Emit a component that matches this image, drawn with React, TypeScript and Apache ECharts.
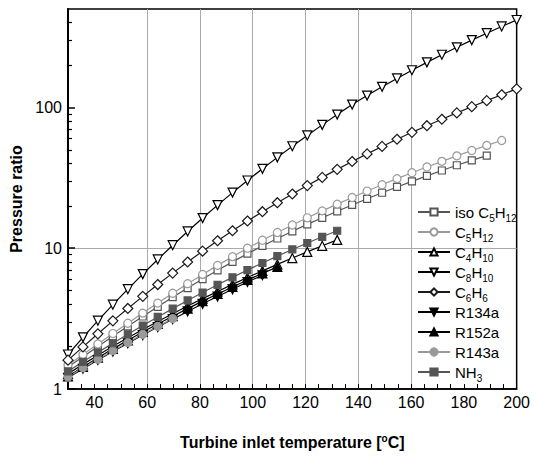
import React, { useEffect, useRef } from 'react';
import * as echarts from 'echarts';

// Turbine inlet temperature points (°C), equally spaced from 30 to 200
const temps = [30, 35.67, 41.33, 47, 52.67, 58.33, 64, 69.67, 75.33, 81, 86.67, 92.33, 98, 103.67, 109.33, 115, 120.67, 126.33, 132, 137.67, 143.33, 149, 154.67, 160.33, 166, 171.67, 177.33, 183, 188.67, 194.33, 200];

const isoC5H12 = [1.432, 1.694, 2.004, 2.366, 2.786, 3.273, 3.837, 4.487, 5.212, 6.039, 6.966, 7.998, 9.141, 10.38, 11.72, 13.18, 14.76, 16.44, 18.28, 20.28, 22.44, 24.77, 27.23, 29.85, 32.66, 35.65, 38.82, 42.07, 45.5];
const C5H12 = [1.479, 1.758, 2.089, 2.477, 2.931, 3.459, 4.074, 4.786, 5.598, 6.516, 7.551, 8.71, 10.0, 11.4, 12.94, 14.62, 16.44, 18.41, 20.56, 22.91, 25.47, 28.25, 31.19, 34.36, 37.76, 41.4, 45.29, 49.43, 53.7, 58.21];
const C4H10 = [1.282, 1.496, 1.738, 2.009, 2.312, 2.649, 3.02, 3.428, 3.882, 4.385, 4.932, 5.534, 6.194, 6.902, 7.674, 8.511, 9.419, 10.4, 11.46];
const C8H10 = [1.758, 2.328, 3.055, 3.972, 5.117, 6.546, 8.318, 10.5, 13.15, 16.37, 20.23, 24.83, 30.27, 36.64, 44.16, 52.97, 63.24, 75.16, 88.92, 104.7, 121.3, 140.0, 160.7, 183.7, 208.9, 236.6, 267.3, 300.6, 336.5, 375.8, 417.8];
const C6H6 = [1.603, 1.991, 2.466, 3.048, 3.733, 4.55, 5.521, 6.653, 7.98, 9.528, 11.3, 13.3, 15.6, 18.16, 21.04, 24.27, 27.86, 31.84, 36.31, 41.3, 46.77, 52.84, 59.43, 66.53, 74.13, 82.41, 91.41, 101.2, 111.7, 123.0, 135.5];
const R134a = [1.202, 1.393, 1.607, 1.845, 2.113, 2.415, 2.754, 3.133, 3.556, 4.027, 4.539, 5.105, 5.754, 6.427];
const R152a = [1.23, 1.435, 1.667, 1.928, 2.218, 2.541, 2.897, 3.289, 3.724, 4.207, 4.732, 5.309, 5.943, 6.622, 7.362];
const R143a = [1.216, 1.413, 1.629, 1.871, 2.143, 2.449, 2.786, 3.162];
const NH3 = [1.334, 1.56, 1.82, 2.113, 2.449, 2.825, 3.251, 3.724, 4.256, 4.842, 5.495, 6.209, 6.998, 7.852, 8.79, 9.795, 10.89, 12.05, 13.3];

const xTickValues = [30, 35, 40, 45, 50, 55, 60, 65, 70, 75, 80, 85, 90, 95, 100, 105, 110, 115, 120, 125, 130, 135, 140, 145, 150, 155, 160, 165, 170, 175, 180, 185, 190, 195, 200];
const xLabelValues = [40, 60, 80, 100, 120, 140, 160, 180, 200];
const xGridValues = [40, 60, 80, 100, 120, 140, 160, 180];
const yLabelValues = [1, 10, 100];
const yMinorTickValues = [2, 3, 4, 5, 6, 7, 8, 9, 20, 30, 40, 50, 60, 70, 80, 90, 200, 300, 400];

const FONT = 'Liberation Sans, Arial, Helvetica, sans-serif';

type Def = { name: string; values: number[]; symbol: string; size: number; rotate?: number; line: string; fill: string; border: string };

const defs: Def[] = [
  { name: 'iso C5H12', values: isoC5H12, symbol: 'rect', size: 7, line: '#555555', fill: '#ffffff', border: '#555555' },
  { name: 'C5H12', values: C5H12, symbol: 'circle', size: 8, line: '#9a9a9a', fill: '#ffffff', border: '#9a9a9a' },
  { name: 'C4H10', values: C4H10, symbol: 'triangle', size: 9, line: '#000000', fill: '#ffffff', border: '#000000' },
  { name: 'C8H10', values: C8H10, symbol: 'triangle', size: 9, rotate: 180, line: '#000000', fill: '#ffffff', border: '#000000' },
  { name: 'C6H6', values: C6H6, symbol: 'diamond', size: 10, line: '#1a1a1a', fill: '#ffffff', border: '#1a1a1a' },
  { name: 'R134a', values: R134a, symbol: 'triangle', size: 9, rotate: 180, line: '#000000', fill: '#000000', border: '#000000' },
  { name: 'R152a', values: R152a, symbol: 'triangle', size: 9, line: '#000000', fill: '#000000', border: '#000000' },
  { name: 'R143a', values: R143a, symbol: 'circle', size: 8, line: '#9a9a9a', fill: '#9a9a9a', border: '#9a9a9a' },
  { name: 'NH3', values: NH3, symbol: 'rect', size: 7, line: '#555555', fill: '#555555', border: '#555555' },
];

function legendLabel(name: string): string {
  if (name.startsWith('R')) return name;
  return name.replace(/(\d+)/g, '{s|$1}');
}

export default function App() {
  const ref = useRef<HTMLDivElement>(null);
  useEffect(() => {
    document.body.style.margin = '0';
    if (!ref.current) return;
    const chart = echarts.init(ref.current, undefined, { renderer: 'svg' });
    const series: any[] = defs.map((d) => ({
      name: d.name,
      type: 'line',
      data: d.values.map((v, i) => [temps[i], v]),
      symbol: d.symbol,
      symbolSize: d.size,
      symbolRotate: d.rotate || 0,
      showAllSymbol: true,
      lineStyle: { color: d.line, width: 1.2 },
      itemStyle: { color: d.fill, borderColor: d.border, borderWidth: 1.2 },
      emphasis: { disabled: true },
      xAxisIndex: 0,
      yAxisIndex: 0,
    }));
    chart.setOption({
      animation: false,
      backgroundColor: '#ffffff',
      textStyle: { fontFamily: FONT },
      grid: { left: 66, right: 14, top: 9, bottom: 65, show: true, borderColor: '#000', borderWidth: 1.5, backgroundColor: 'transparent' },
      legend: {
        orient: 'vertical',
        left: 417,
        top: 201,
        padding: 0,
        itemWidth: 32,
        itemHeight: 9,
        itemGap: -2,
        data: defs.map((d) => d.name),
        formatter: legendLabel,
        textStyle: {
          fontFamily: FONT,
          fontSize: 15,
          color: '#000',
          lineHeight: 22,
          rich: { s: { fontFamily: FONT, fontSize: 10, color: '#000', lineHeight: 2, verticalAlign: 'bottom' } },
        },
      },
      xAxis: [
        {
          type: 'value',
          position: 'bottom',
          min: 30,
          max: 200,
          name: 'Turbine inlet temperature [{sup|o}C]',
          nameLocation: 'middle',
          nameGap: 44,
          nameTextStyle: {
            fontFamily: FONT, fontSize: 16, fontWeight: 'bold', color: '#000', lineHeight: 18,
            rich: { sup: { fontFamily: FONT, fontSize: 10, fontWeight: 'bold', color: '#000', lineHeight: 12, verticalAlign: 'top' } },
          },
          axisLine: { show: true, lineStyle: { color: '#000', width: 1.5 } },
          axisTick: { show: true, inside: true, length: 5, customValues: xTickValues, lineStyle: { color: '#000', width: 1 } },
          axisLabel: { customValues: xLabelValues, fontFamily: FONT, fontSize: 16, color: '#000', margin: 5 },
          splitLine: { show: false },
          z: 3,
        },
        {
          type: 'value',
          position: 'bottom',
          min: 30,
          max: 200,
          axisLine: { show: false },
          axisTick: { show: false, customValues: xGridValues },
          axisLabel: { show: false },
          splitLine: { show: true, showMinLine: false, showMaxLine: false, lineStyle: { color: '#aaaaaa', width: 1 } },
          z: 1,
        },
      ],
      yAxis: [
        {
          type: 'log',
          logBase: 10,
          position: 'left',
          min: 1,
          max: 500,
          name: 'Pressure ratio',
          nameLocation: 'middle',
          nameGap: 44,
          nameTextStyle: { fontFamily: FONT, fontSize: 16, fontWeight: 'bold', color: '#000' },
          axisLine: { show: true, lineStyle: { color: '#000', width: 2 } },
          axisTick: { show: true, inside: true, length: 7, customValues: yLabelValues, lineStyle: { color: '#000', width: 1.5 } },
          axisLabel: { customValues: yLabelValues, fontFamily: FONT, fontSize: 16, color: '#000', margin: 6 },
          splitLine: { show: true, showMinLine: false, showMaxLine: false, lineStyle: { color: '#aaaaaa', width: 1 } },
        },
        {
          type: 'log',
          logBase: 10,
          position: 'left',
          min: 1,
          max: 500,
          axisLine: { show: false },
          axisTick: { show: true, inside: true, length: 4, customValues: yMinorTickValues, lineStyle: { color: '#000', width: 1.2 } },
          axisLabel: { show: false },
          splitLine: { show: false },
        },
      ],
      series,
    });
    return () => chart.dispose();
  }, []);
  return <div ref={ref} style={{ width: 533, height: 456 }} />;
}
